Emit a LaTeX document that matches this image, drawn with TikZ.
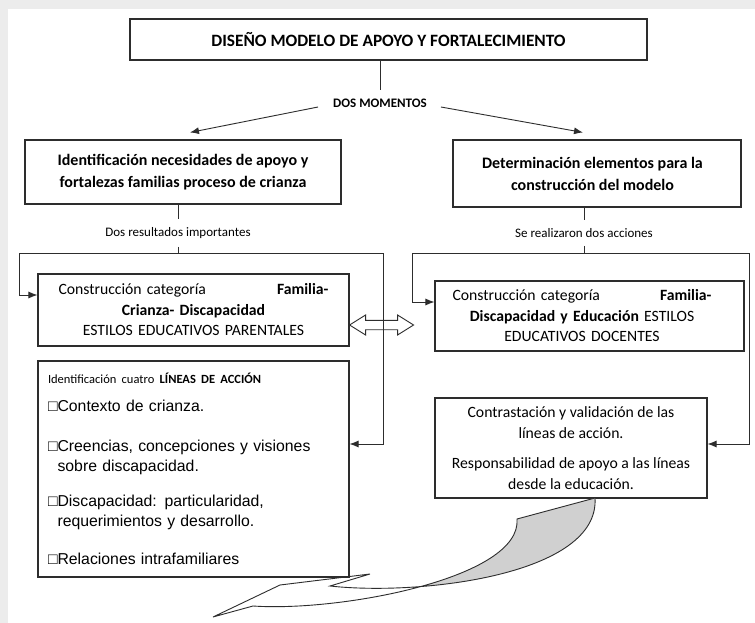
\documentclass[tikz,border=0pt]{standalone}
\usepackage{fontspec}
\setmainfont{Carlito}
\newfontfamily\arialfont{Liberation Sans}
\usetikzlibrary{arrows.meta}
\definecolor{linecolor}{RGB}{45,45,45}
\definecolor{foldgray}{RGB}{208,208,208}
\definecolor{pagegray}{RGB}{236,236,236}

\newcommand{\titlefont}{\fontsize{17.3}{21}\selectfont\bfseries}
\newcommand{\headfont}{\fontsize{16}{22}\selectfont\bfseries}
\newcommand{\boxfont}{\fontsize{15.7}{20.5}\selectfont}
\newcommand{\smallfont}{\fontsize{13}{15}\selectfont}
\newcommand{\itemfont}{\arialfont\fontsize{15.8}{20}\selectfont}
\newcommand{\sq}{□}

\begin{document}
\begin{tikzpicture}[x=1pt,y=-1pt,
  box/.style={draw=linecolor,line width=1.1pt,inner sep=3pt,align=center,font=\boxfont},
  midtext/.style={inner xsep=3pt,inner ysep=8pt,font=\smallfont},
  conn/.style={draw=linecolor,line width=0.9pt},
  arr/.style={conn,-{Latex[length=9pt,width=7pt]}}]
\def\inneredge{(253,606) .. controls (340,612) and (522,578) .. (517,519)}
\def\outeredge{(595,498) .. controls (600,575) and (420,596) .. (330,586)}

% page
\useasboundingbox (0,0) rectangle (755,623);
\fill[pagegray] (0,0) rectangle (755,623);
\fill[white] (8,9) rectangle (755,623);

% boxes
\node[box,minimum width=517,minimum height=41,font=\titlefont] (top) at (388.5,39.5)
  {DISEÑO MODELO DE APOYO Y FORTALECIMIENTO};
\node[midtext] (momentos) at (380,103) {\bfseries DOS MOMENTOS};
\node[box,minimum width=316,minimum height=64,font=\headfont] (ident) at (183,172)
  {Identificación necesidades de apoyo y\\ fortalezas familias proceso de crianza};
\node[box,minimum width=288,minimum height=67,font=\headfont] (determ) at (597,173.5)
  {Determinación elementos para la\rule{9pt}{0pt}\\ construcción del modelo\rule{9pt}{0pt}};
\node[midtext] (resultados) at (178,233) {Dos resultados importantes};
\node[midtext] (acciones) at (584,233) {Se realizaron dos acciones};

\node[box,minimum width=311,minimum height=72,text width=270] (crianza) at (193.5,310)
  {Construcción categoría\hfill\textbf{Familia-}\\ \textbf{Crianza- Discapacidad}\\ ESTILOS EDUCATIVOS PARENTALES};
\node[box,minimum width=309,minimum height=70,text width=274] (docentes) at (589.5,316)
  {Construcción categoría\hfill\textbf{Familia-}\rule{15pt}{0pt}\\
   \textbf{Discapacidad y Educación} ESTILOS\rule{15pt}{0pt}\\
   EDUCATIVOS DOCENTES\rule{15pt}{0pt}};
\node[box,minimum width=311,minimum height=216,text width=291,align=left,font=\itemfont] (lineas) at (193.5,469)
  {{\rmfamily\fontsize{12.5}{15}\selectfont Identificación cuatro \textbf{LÍNEAS DE ACCIÓN}}\\[8pt]
   \sq Contexto de crianza.\\[20pt]
   \sq Creencias, concepciones y visiones\\
   \phantom{\sq}sobre discapacidad.\\[15pt]
   \sq Discapacidad: particularidad,\\
   \phantom{\sq}requerimientos y desarrollo.\\[18pt]
   \sq Relaciones intrafamiliares};
\node[box,minimum width=272,minimum height=100] (contraste) at (571,448)
  {\rule{0pt}{5pt}Contrastación y validación de las\\ líneas de acción.\\[10pt]
   Responsabilidad de apoyo a las líneas\\ desde la educación.};

% connectors
\draw[conn] (momentos.north |- top.south) -- (momentos.north);
\draw[arr] ([shift={(-12,4)}]momentos.west) -- ([shift={(7,-7)}]ident.north);
\draw[arr] ([shift={(11,4)}]momentos.east) -- ([shift={(-14,-7)}]determ.north);

\coordinate (lleft) at (19,253);
\coordinate (lright) at (383,253);
\draw[conn] (resultados.north |- ident.south) -- (resultados.north);
\draw[conn] (resultados.south) -- (resultados.south |- lleft);
\draw[arr] (lright) -- (lleft) |- ([shift={(0,-15)}]crianza.west);
\draw[arr] (lright) |- ([shift={(0,-25)}]lineas.east);

\coordinate (rleft) at (412,253);
\coordinate (rright) at (749,253);
\draw[conn] (acciones.north |- determ.south) -- (acciones.north);
\draw[conn] (acciones.south) -- (acciones.south |- rleft);
\draw[arr] (rright) -- (rleft) |- ([shift={(0,-14)}]docentes.west);
\draw[arr] (rright) |- ([shift={(0,-4)}]contraste.east);

% double arrow
\draw[conn,line join=miter] ([shift={(0,15)}]crianza.east) -- ++(16,-10) -- ++(0,5.3) -- ++(32,0)
  -- ++(0,-5.3) -- ++(16,10) -- ++(-16,10) -- ++(0,-5.3) -- ++(-32,0) -- ++(0,5.3) -- cycle;

% curved arrow
\coordinate (twist) at (418,587);
\begin{scope}
\clip (twist) ++(0,-120) rectangle (620,630);
\fill[foldgray] \inneredge -- \outeredge -- cycle;
\end{scope}
\draw[conn,line join=miter] \inneredge -- \outeredge -- (370,574) -- (280,585) -- (213,617) -- cycle;
\end{tikzpicture}
\end{document}
